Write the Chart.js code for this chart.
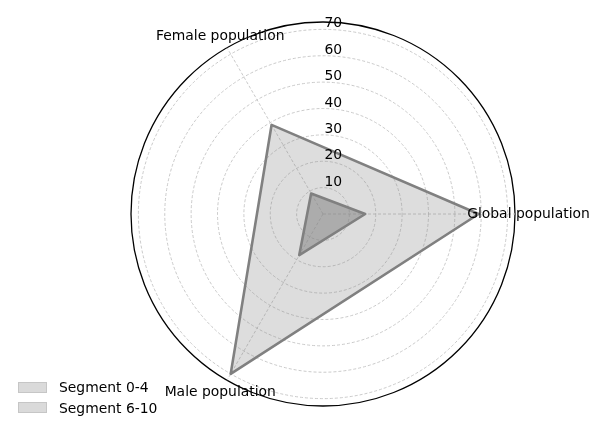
<!DOCTYPE html>
<html><head><meta charset="utf-8">
<script src="https://cdn.jsdelivr.net/npm/chart.js@4/dist/chart.umd.min.js"></script>
<style>
html,body{margin:0;padding:0;background:#fff;}
#wrap{position:relative;width:600px;height:425px;}
#legend{position:absolute;left:18px;top:377px;font-family:'DejaVu Sans',sans-serif;font-size:13.9px;color:#000;}
.item{display:flex;align-items:center;height:20.6px;}
.sw{width:27px;height:9px;background:#dadada;border:1px solid #c6c6c6;margin-right:12px;}
</style></head><body>
<div id="wrap"><canvas id="c" width="600" height="425"></canvas><div id="legend"></div></div>
<script>
const categories = ['Global population', 'Male population', 'Female population'];
const seriesNames = ['Segment 0-4', 'Segment 6-10'];
const segment0to4 = [16, 18, 9];
const segment6to10 = [59, 70, 39];
const tickValues = [10, 20, 30, 40, 50, 60, 70];
const radialMax = 72.8;

const FONT = '13.9px "DejaVu Sans", sans-serif';

const labelPlugin = {
  id: 'labelPlugin',
  afterDraw(chart) {
    const s = chart.scales.r;
    const ctx = chart.ctx;
    ctx.save();
    ctx.font = FONT;
    ctx.fillStyle = '#000';
    // radial tick labels
    ctx.textAlign = 'left';
    ctx.textBaseline = 'alphabetic';
    tickValues.forEach(v => {
      const d = s.getDistanceFromCenterForValue(v);
      ctx.fillText(String(v), s.xCenter + 1.5, s.yCenter - d - 2);
    });
    // category labels
    ctx.textAlign = 'center';
    ctx.textBaseline = 'middle';
    categories.forEach((c, i) => {
      const p = s.getPointPosition(i, s.drawingArea + 13.5);
      ctx.fillText(c, p.x, p.y);
    });
    ctx.restore();
  }
};

const chart = new Chart(document.getElementById('c'), {
  type: 'radar',
  data: {
    labels: categories,
    datasets: [
      { label: seriesNames[0], data: segment0to4,
        backgroundColor: 'rgba(128,128,128,0.52)', borderColor: '#808080',
        borderWidth: 2.6, borderJoinStyle: 'round', pointRadius: 0, fill: true },
      { label: seriesNames[1], data: segment6to10,
        backgroundColor: 'rgba(128,128,128,0.27)', borderColor: '#808080',
        borderWidth: 2.6, borderJoinStyle: 'round', pointRadius: 0, fill: true }
    ]
  },
  options: {
    responsive: false,
    animation: false,
    devicePixelRatio: 1,
    layout: { padding: { left: 123, right: 77, top: 22, bottom: 18 } },
    elements: { line: { tension: 0 } },
    plugins: { legend: { display: false }, tooltip: { enabled: false } },
    scales: {
      r: {
        min: 0,
        max: radialMax,
        startAngle: 90,
        afterBuildTicks: (scale) => {
          scale.ticks = [0].concat(tickValues, [radialMax]).map(v => ({ value: v }));
        },
        ticks: { display: false },
        pointLabels: { display: false },
        angleLines: { color: '#c4c4c4', lineWidth: 0.9, borderDash: [3, 2] },
        grid: {
          circular: true,
          color: (c) => (c.tick && c.tick.value === radialMax) ? '#000' : '#c4c4c4',
          lineWidth: (c) => (c.tick && c.tick.value === radialMax) ? 1.3 : 0.9
        },
        border: {
          dash: (c) => (c.tick && c.tick.value === radialMax) ? [] : [3, 2]
        }
      }
    }
  },
  plugins: [labelPlugin]
});

const legend = document.getElementById('legend');
chart.data.datasets.forEach(ds => {
  const row = document.createElement('div');
  row.className = 'item';
  const sw = document.createElement('span');
  sw.className = 'sw';
  const t = document.createElement('span');
  t.textContent = ds.label;
  row.appendChild(sw); row.appendChild(t);
  legend.appendChild(row);
});
</script>
</body></html>
